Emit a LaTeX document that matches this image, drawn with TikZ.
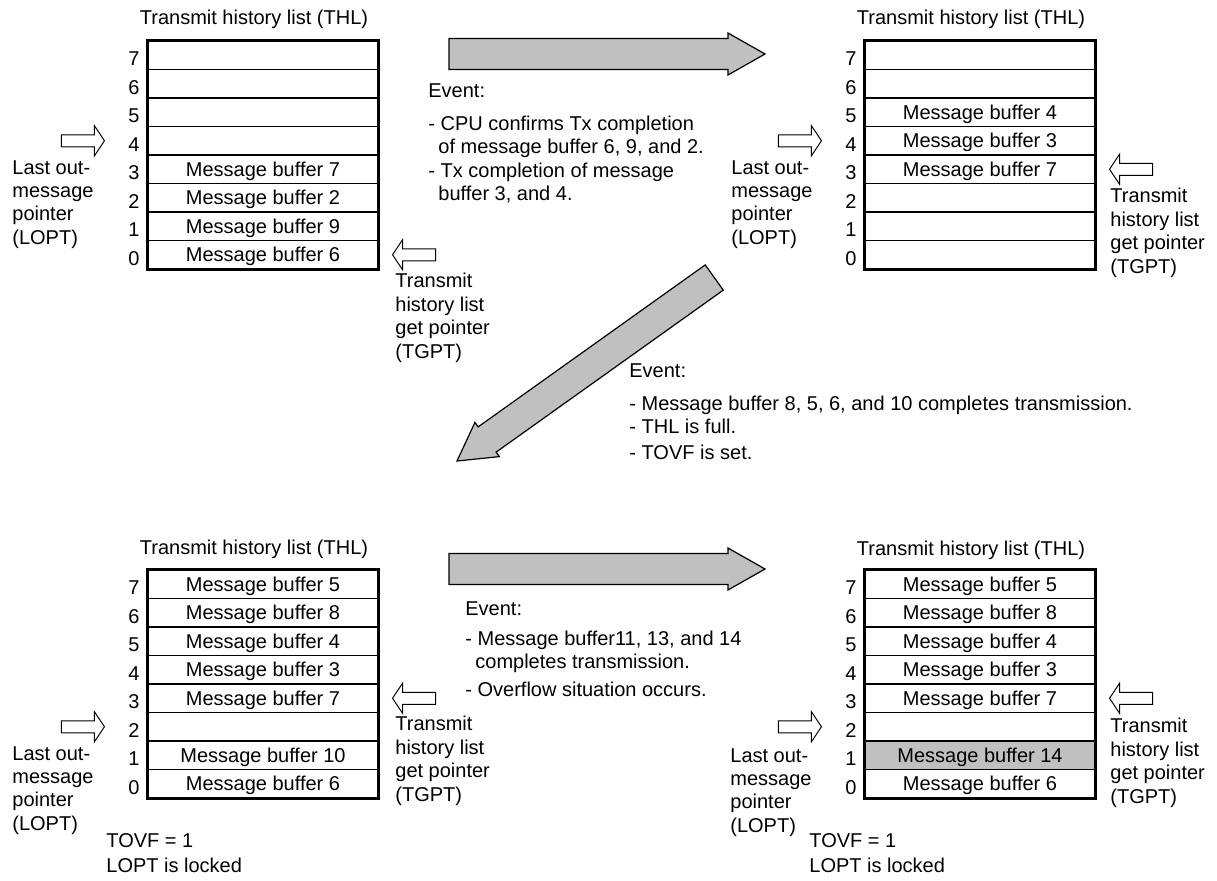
\documentclass[tikz,border=0pt]{standalone}
\usepackage{fontspec}
\setmainfont{Liberation Sans}
\usetikzlibrary{positioning}
\definecolor{arrowgray}{HTML}{C0C0C0}

\tikzset{
  ptr/.pic={\draw[line width=0.5pt, fill=white] (0,0) -- (-10,15) -- (-10,6) -- (-43,6)
      -- (-43,-6) -- (-10,-6) -- (-10,-15) -- cycle;},
  bigarr/.pic={\draw[line width=0.6pt, fill=arrowgray] (0,0) -- (-37,21) -- (-37,15.5)
      -- (-316,15.5) -- (-316,-15.5) -- (-37,-15.5) -- (-37,-21) -- cycle;}
}

\begin{document}
\begin{tikzpicture}[x=0.5pt, y=-0.5pt,
    every node/.style={font=\fontsize{10}{11.7}\selectfont, inner sep=0pt},
    cell/.style={draw, line width=0.55pt, minimum width=115pt, minimum height=14.25pt,
      text height=0.72em, text depth=0pt},
    idx/.style={anchor=east, text height=0.72em, text depth=0pt},
    lbl/.style={align=left, anchor=north west},
    title/.style={text height=0.72em, text depth=0pt}]
  \useasboundingbox (0,0) rectangle (1217,880);

  % THL at the start
  \foreach \i/\t in {7/,6/,5/,4/,3/Message buffer 7,2/Message buffer 2,1/Message buffer 9,0/Message buffer 6}
    \node[cell] (A\i) at (263,{55.25+(7-\i)*28.5}) {\t};
  \draw[line width=1.1pt] (A7.north west) rectangle (A0.south east);
  \foreach \i in {0,...,7}
    \node[idx] at ([xshift=-3.75pt,yshift=-1.75pt]A\i.west) {\i};
  \node[title] (tA) at (254,17) {Transmit history list (THL)};
  \pic at ([xshift=-21.5pt]A4.west) {ptr};
  \node[lbl] (lA) at (12,160) {Last out-\\message\\pointer\\(LOPT)};
  \pic[rotate=180] at ([xshift=7pt]A0.east) {ptr};
  \node[lbl] (gA) at (395,273) {Transmit\\history list\\get pointer\\(TGPT)};

  % first event
  \pic at (765,54) {bigarr};
  \node[lbl] (e1) at (428,83) {Event:\\[5pt]- CPU confirms Tx completion\\
    \hspace*{5pt}of message buffer 6, 9, and 2.\\- Tx completion of message\\
    \hspace*{5pt}buffer 3, and 4.};

  % THL after the first event
  \foreach \i/\t in {7/,6/,5/Message buffer 4,4/Message buffer 3,3/Message buffer 7,2/,1/,0/}
    \node[cell] (B\i) at (980,{55.25+(7-\i)*28.5}) {\t};
  \draw[line width=1.1pt] (B7.north west) rectangle (B0.south east);
  \foreach \i in {0,...,7}
    \node[idx] at ([xshift=-3.75pt,yshift=-1.75pt]B\i.west) {\i};
  \node[title] (tB) at (971,17) {Transmit history list (THL)};
  \pic at ([xshift=-21.5pt]B4.west) {ptr};
  \node[lbl] (lB) at (731,160) {Last out-\\message\\pointer\\(LOPT)};
  \pic[rotate=180] at ([xshift=7pt]B3.east) {ptr};
  \node[lbl] (gB) at (1110,188) {Transmit\\history list\\get pointer\\(TGPT)};

  % second event
  \pic[rotate=215.5] at (457,461) {bigarr};
  \node[lbl] (e2) at (629,363) {Event:\\[5pt]- Message buffer 8, 5, 6, and 10 completes transmission.\\
    - THL is full.\\[1.3pt]- TOVF is set.};

  % THL full
  \foreach \i/\t in {7/Message buffer 5,6/Message buffer 8,5/Message buffer 4,4/Message buffer 3,
      3/Message buffer 7,2/,1/Message buffer 10,0/Message buffer 6}
    \node[cell] (C\i) at (263,{584.25+(7-\i)*28.5}) {\t};
  \draw[line width=1.1pt] (C7.north west) rectangle (C0.south east);
  \foreach \i in {0,...,7}
    \node[idx] at ([xshift=-3.75pt,yshift=-1.75pt]C\i.west) {\i};
  \node[title] (tC) at (254,547) {Transmit history list (THL)};
  \pic at ([xshift=-21.5pt]C2.west) {ptr};
  \node[lbl] (lC) at (12,746) {Last out-\\message\\pointer\\(LOPT)};
  \pic[rotate=180] at ([xshift=7pt]C3.east) {ptr};
  \node[lbl] (gC) at (395,716) {Transmit\\history list\\get pointer\\(TGPT)};
  \node[lbl] (sC) at (106,833) {TOVF = 1\\[0.8pt]LOPT is locked};

  % third event
  \pic at (765,569) {bigarr};
  \node[lbl] (e3) at (465,601) {Event:\\[3.3pt]- Message buffer11, 13, and 14\\
    \hspace*{5pt}completes transmission.\\[2.3pt]- Overflow situation occurs.};

  % THL overflow
  \foreach \i/\t/\f in {7/Message buffer 5/white,6/Message buffer 8/white,5/Message buffer 4/white,
      4/Message buffer 3/white,3/Message buffer 7/white,2//white,1/Message buffer 14/arrowgray,
      0/Message buffer 6/white}
    \node[cell, fill=\f] (D\i) at (980,{584.25+(7-\i)*28.5}) {\t};
  \draw[line width=1.1pt] (D7.north west) rectangle (D0.south east);
  \foreach \i in {0,...,7}
    \node[idx] at ([xshift=-3.75pt,yshift=-1.75pt]D\i.west) {\i};
  \node[title] (tD) at (971,548) {Transmit history list (THL)};
  \pic at ([xshift=-21.5pt]D2.west) {ptr};
  \node[lbl] (lD) at (730,748) {Last out-\\message\\pointer\\(LOPT)};
  \pic[rotate=180] at ([xshift=7pt]D3.east) {ptr};
  \node[lbl] (gD) at (1110,718) {Transmit\\history list\\get pointer\\(TGPT)};
  \node[lbl] (sD) at (809,833) {TOVF = 1\\[0.8pt]LOPT is locked};
\end{tikzpicture}
\end{document}
